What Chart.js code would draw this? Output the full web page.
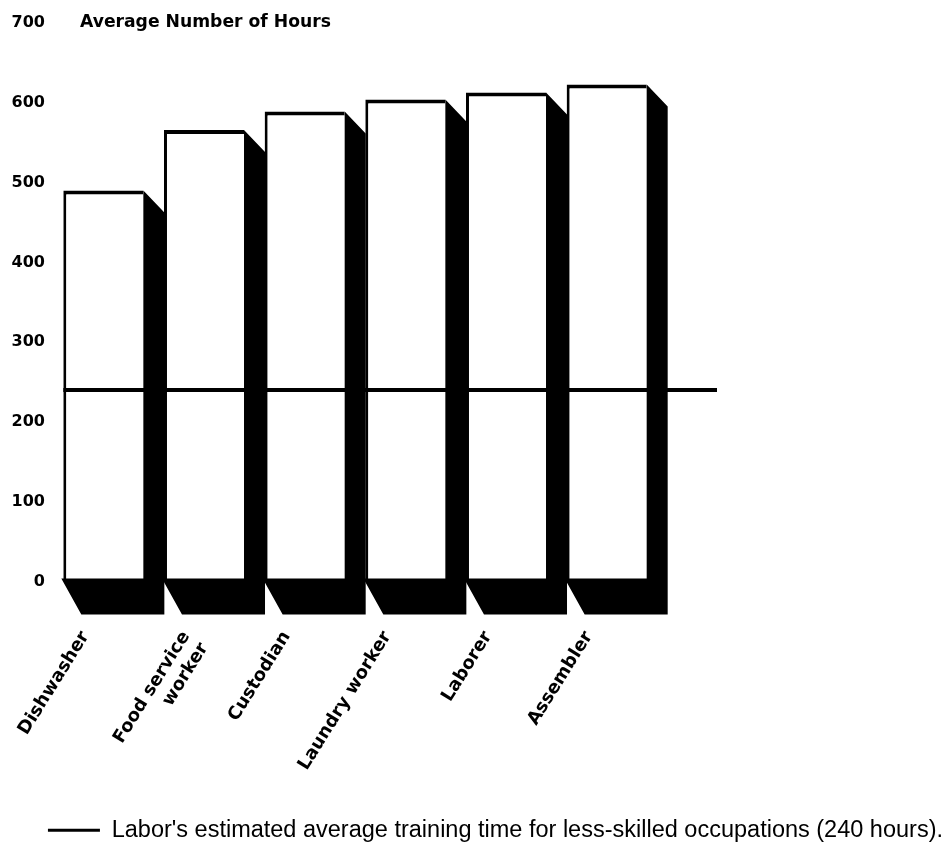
<!DOCTYPE html>
<html>
<head>
<meta charset="utf-8">
<script src="https://cdn.jsdelivr.net/npm/chart.js@4.4.1/dist/chart.umd.min.js"></script>
<style>
  html, body { margin: 0; padding: 0; background: #fff; }
  #wrap { position: relative; width: 947px; height: 845px; }
</style>
</head>
<body>
<div id="wrap"><canvas id="chart"></canvas></div>
<script>
// Occupations and their average training hours
const occupations = ['Dishwasher', ['Food service', 'worker'], 'Custodian', 'Laundry worker', 'Laborer', 'Assembler'];
const avgHours = [490, 566, 589, 604, 613, 623];
const hourTicks = [0, 100, 200, 300, 400, 500, 600, 700];
const laborEstimate = 240;
const axisTitle = 'Average Number of Hours';
const legendText = "Labor's estimated average training time for less-skilled occupations (" + laborEstimate + ' hours).';

const boldFace = '"DejaVu Sans", sans-serif';

// Black block shadow to the right of and below each bar
const barShadows = {
  id: 'barShadows',
  afterDatasetsDraw(chart, args, o) {
    const ctx = chart.ctx;
    const meta = chart.getDatasetMeta(0);
    ctx.save();
    ctx.fillStyle = '#000';
    meta.data.forEach(bar => {
      const p = bar.getProps(['x', 'y', 'base', 'width'], true);
      const l = p.x - p.width / 2, r = p.x + p.width / 2;
      ctx.beginPath();
      ctx.moveTo(r, p.y);
      ctx.lineTo(r + o.side, p.y + o.topDrop);
      ctx.lineTo(r + o.side, p.base + o.floorDrop);
      ctx.lineTo(l + o.floorShift, p.base + o.floorDrop);
      ctx.lineTo(l - 2, p.base - o.overlap);
      ctx.lineTo(r, p.base - o.overlap);
      ctx.closePath();
      ctx.fill();
    });
    ctx.restore();
  }
};

// Horizontal line for labor's estimate, running past the last bar
const referenceLine = {
  id: 'referenceLine',
  afterDatasetsDraw(chart, args, o) {
    const ctx = chart.ctx;
    const first = chart.getDatasetMeta(0).data[0];
    const y = chart.scales.y.getPixelForValue(laborEstimate);
    const x0 = first.x - first.width / 2;
    const x1 = chart.chartArea.right + o.overhang;
    ctx.save();
    ctx.strokeStyle = '#000';
    ctx.lineWidth = o.width;
    ctx.beginPath();
    ctx.moveTo(x0, y);
    ctx.lineTo(x1, y);
    ctx.stroke();
    ctx.restore();
  }
};

// Axis heading printed on the same line as the top tick
const axisHeading = {
  id: 'axisHeading',
  afterDraw(chart, args, o) {
    const ctx = chart.ctx;
    const y = chart.scales.y.getPixelForValue(hourTicks[hourTicks.length - 1]);
    ctx.save();
    ctx.fillStyle = '#000';
    ctx.font = 'bold ' + o.size + 'px ' + boldFace;
    ctx.textAlign = 'left';
    ctx.textBaseline = 'middle';
    ctx.fillText(axisTitle, o.x, y);
    ctx.restore();
  }
};

new Chart(document.getElementById('chart'), {
  type: 'bar',
  data: {
    labels: occupations,
    datasets: [{
      data: avgHours,
      backgroundColor: '#fff',
      borderColor: '#000',
      borderWidth: { top: 4, left: 3, right: 0, bottom: 0 },
      borderSkipped: false,
      categoryPercentage: 1,
      barPercentage: 0.795
    }]
  },
  options: {
    responsive: true,
    maintainAspectRatio: false,
    animation: false,
    events: [],
    layout: { padding: { top: 23, bottom: -7, left: 0, right: 0 } },
    scales: {
      x: {
        grid: { display: false, drawTicks: false },
        border: { display: false },
        ticks: {
          color: '#000',
          font: { family: boldFace, size: 18, weight: 'bold' },
          minRotation: 58,
          maxRotation: 58,
          autoSkip: false,
          padding: 46,
          labelOffset: -18
        },
        afterFit(s) {
          s.height = 233;
          s.paddingLeft = 0;
          s.paddingRight = 0;
        }
      },
      y: {
        min: 0,
        max: 700,
        grid: { display: false, drawTicks: false },
        border: { display: false },
        afterBuildTicks(s) { s.ticks = hourTicks.map(v => ({ value: v })); },
        ticks: {
          color: '#000',
          font: { family: boldFace, size: 16, weight: 'bold' },
          padding: 8
        },
        afterFit(s) {
          s.width = 53;
          s.paddingTop = 0;
          s.paddingBottom = 0;
        }
      },
      spacer: {
        type: 'linear',
        position: 'right',
        display: true,
        grid: { display: false, drawTicks: false },
        border: { display: false },
        ticks: { display: false },
        afterFit(s) { s.width = 290; }
      }
    },
    plugins: {
      tooltip: { enabled: false },
      legend: {
        position: 'bottom',
        align: 'end',
        labels: {
          boxWidth: 52,
          boxHeight: 3,
          padding: 4,
          color: '#000',
          font: { family: '"Liberation Sans", Arial, sans-serif', size: 23.5 },
          generateLabels: () => [{
            text: legendText,
            fillStyle: '#000',
            strokeStyle: '#000',
            lineWidth: 0,
            hidden: false,
            datasetIndex: 0
          }]
        }
      },
      barShadows: { side: 21, topDrop: 22, floorDrop: 33, floorShift: 18, overlap: 3 },
      referenceLine: { overhang: 60, width: 4 },
      axisHeading: { x: 80, size: 17.2 }
    }
  },
  plugins: [barShadows, referenceLine, axisHeading]
});
</script>
</body>
</html>
